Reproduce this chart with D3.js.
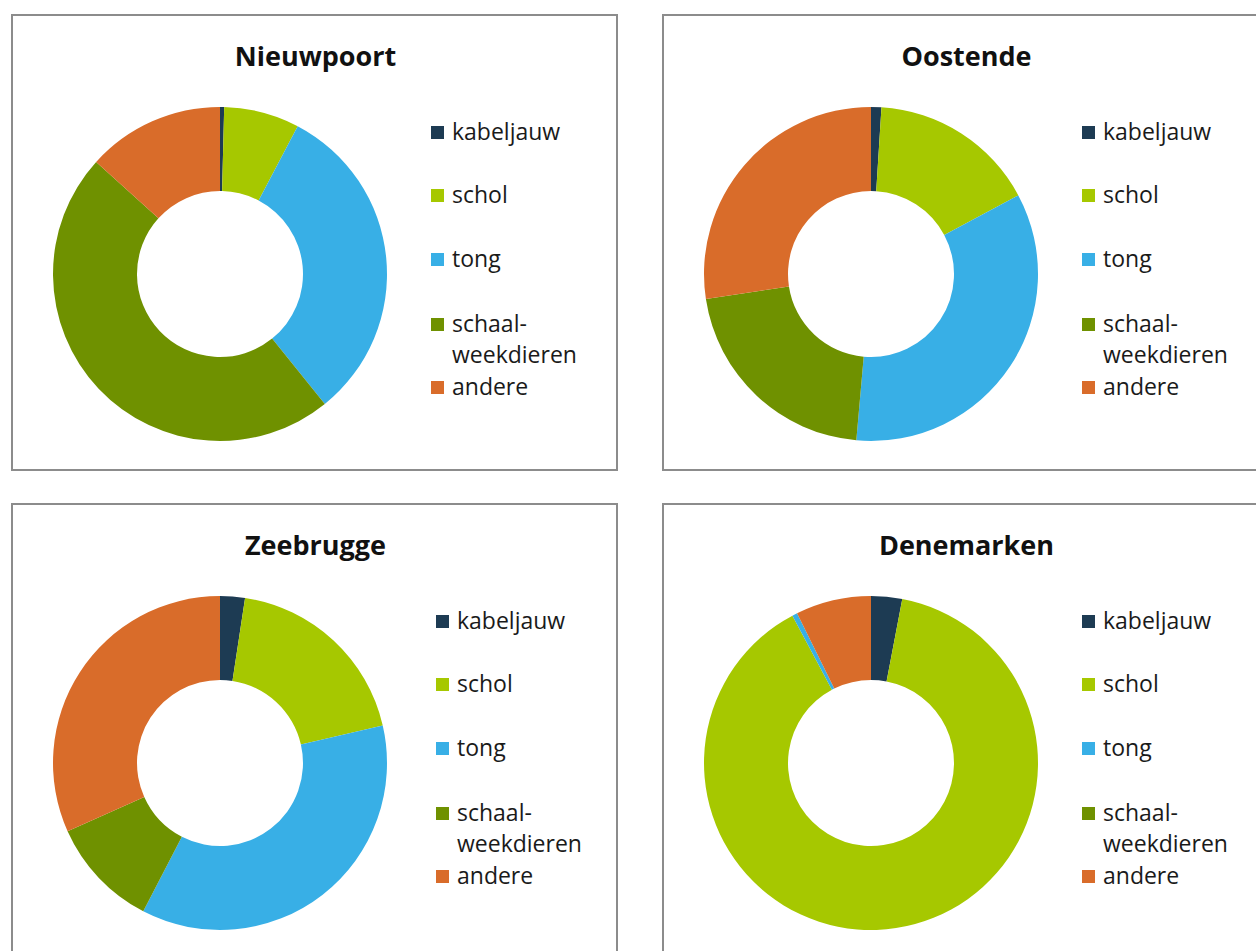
<!DOCTYPE html>
<html>
<head>
<meta charset="utf-8">
<script src="https://cdn.jsdelivr.net/npm/d3@7"></script>
<style>
  html, body { margin: 0; padding: 0; background: #ffffff; overflow: hidden; }
  svg { display: block; }
</style>
</head>
<body>
<svg id="chart" width="1256" height="951"></svg>
<script>
// ---- data ----
const categories = ["kabeljauw", "schol", "tong", "schaal-weekdieren", "andere"];
const legendLabels = [["kabeljauw"], ["schol"], ["tong"], ["schaal-", "weekdieren"], ["andere"]];
const colors = ["#1d3b53", "#a6c800", "#38afe6", "#6f9100", "#d96c2a"];
const titles = ["Nieuwpoort", "Oostende", "Zeebrugge", "Denemarken"];
const nieuwpoort = [0.4, 7.3, 31.5, 47.5, 13.3];
const oostende = [1.0, 16.2, 34.2, 21.2, 27.4];
const zeebrugge = [2.4, 19.0, 36.2, 10.7, 31.7];
const denemarken = [3.0, 89.2, 0.5, 0, 7.3];
const seriesValues = [nieuwpoort, oostende, zeebrugge, denemarken];

// ---- layout ----
const panels = [
  { x: 12, y: 15, legendDx: 0 },
  { x: 663, y: 15, legendDx: 0 },
  { x: 12, y: 504, legendDx: 5 },
  { x: 663, y: 504, legendDx: 0 }
];
const panelW = 605, panelH = 455;
const cxOff = 208, cyOff = 259;
const outerR = 167, innerR = 83;
const legendYs = [-134, -71, -7, 58, 121];
const lineGap = 31;

const svg = d3.select("#chart");
const color = d3.scaleOrdinal().domain(categories).range(colors);
const pie = d3.pie().sort(null).value(d => d.value);
const arc = d3.arc().innerRadius(innerR).outerRadius(outerR);

panels.forEach((p, i) => {
  const g = svg.append("g").attr("transform", `translate(${p.x},${p.y})`);
  g.append("rect")
    .attr("x", 0).attr("y", 0)
    .attr("width", panelW).attr("height", panelH)
    .attr("fill", "#ffffff")
    .attr("stroke", "#8c8c8c")
    .attr("stroke-width", 2);

  g.append("text")
    .attr("x", panelW / 2 + 1)
    .attr("y", 51)
    .attr("text-anchor", "middle")
    .attr("font-family", "'Open Sans', sans-serif")
    .attr("font-weight", 700)
    .attr("font-size", 27)
    .attr("fill", "#111")
    .text(titles[i]);

  const data = categories.map((c, k) => ({ cat: c, value: seriesValues[i][k] }));
  const donut = g.append("g").attr("transform", `translate(${cxOff},${cyOff})`);
  donut.selectAll("path")
    .data(pie(data))
    .join("path")
    .attr("d", arc)
    .attr("fill", d => color(d.data.cat));

  const leg = g.append("g").attr("transform", `translate(${cxOff + 211 + p.legendDx},${cyOff})`);
  categories.forEach((c, k) => {
    const y = legendYs[k];
    leg.append("rect")
      .attr("x", 0).attr("y", y - 14)
      .attr("width", 13).attr("height", 13)
      .attr("fill", color(c));
    const t = leg.append("text")
      .attr("x", 21).attr("y", y)
      .attr("font-family", "'Open Sans', sans-serif")
      .attr("font-size", 23)
      .attr("fill", "#1a1a1a");
    legendLabels[k].forEach((line, j) => {
      t.append("tspan").attr("x", 21).attr("y", y + j * lineGap).text(line);
    });
  });
});
</script>
</body>
</html>
